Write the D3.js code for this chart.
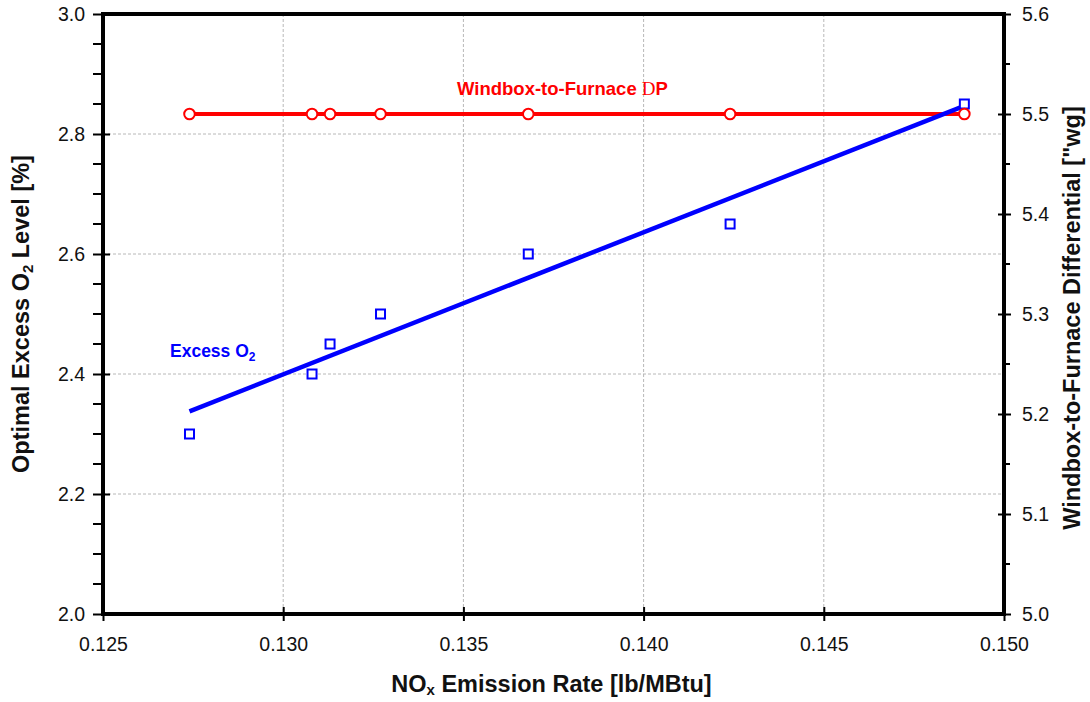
<!DOCTYPE html>
<html><head><meta charset="utf-8">
<script src="https://cdn.jsdelivr.net/npm/d3@7/dist/d3.min.js"></script>
<style>body{margin:0;background:#fff}svg{display:block}text{font-family:"Liberation Sans",Arial,sans-serif}</style>
</head><body><svg id="c" width="1090" height="702"></svg>
<script>
const noxRates = [0.1274, 0.1308, 0.1313, 0.1327, 0.1368, 0.1424, 0.1489];
const excessO2 = [2.30, 2.40, 2.45, 2.50, 2.60, 2.65, 2.85];
const windboxDP = [5.5, 5.5, 5.5, 5.5, 5.5, 5.5, 5.5];
const xTicks = [0.125, 0.130, 0.135, 0.140, 0.145, 0.150];
const yLeftTicks = [2.0, 2.2, 2.4, 2.6, 2.8, 3.0];
const yRightTicks = [5.0, 5.1, 5.2, 5.3, 5.4, 5.5, 5.6];

const svg = d3.select("#c");
const L = 103, R = 1004, T = 14, B = 614;
const x = d3.scaleLinear().domain([0.125, 0.150]).range([L, R]);
const yL = d3.scaleLinear().domain([2.0, 3.0]).range([B, T]);
const yR = d3.scaleLinear().domain([5.0, 5.6]).range([B, T]);

// grid
const g = svg.append("g").attr("stroke", "#b8b8b8").attr("stroke-width", 1).attr("stroke-dasharray", "3,2");
xTicks.slice(1, -1).forEach(v => g.append("line").attr("x1", x(v)).attr("x2", x(v)).attr("y1", T).attr("y2", B));
yLeftTicks.slice(1, -1).forEach(v => g.append("line").attr("x1", L).attr("x2", R).attr("y1", yL(v)).attr("y2", yL(v)));

// axes
const fs = 19.5;
const axL = svg.append("g").attr("transform", `translate(${L},0)`)
  .call(d3.axisLeft(yL).tickValues(yLeftTicks).tickFormat(d3.format(".1f")).tickSize(10).tickPadding(8));
const axR = svg.append("g").attr("transform", `translate(${R},0)`)
  .call(d3.axisRight(yR).tickValues(yRightTicks).tickFormat(d3.format(".1f")).tickSize(7).tickPadding(11));
const axB = svg.append("g").attr("transform", `translate(0,${B})`)
  .call(d3.axisBottom(x).tickValues(xTicks).tickFormat(d3.format(".3f")).tickSize(7).tickPadding(16));
[axL, axR, axB].forEach(a => {
  a.select(".domain").remove();
  a.selectAll("text").attr("font-size", fs).attr("fill", "#111").style("font-family", '"Liberation Sans",Arial,sans-serif');
  a.selectAll(".tick line").attr("stroke", "#000").attr("stroke-width", 2);
});
// crossing major ticks
axL.selectAll(".tick line").attr("x1", -10).attr("x2", 7);
axR.selectAll(".tick line").attr("x1", -6).attr("x2", 7);
axB.selectAll(".tick line").attr("y1", -7).attr("y2", 7);

// minor ticks
const minorL = d3.range(2.05, 3.0, 0.05).filter(v => Math.abs(Math.round(v * 5) - v * 5) > 1e-6);
minorL.forEach(v => svg.append("line").attr("x1", L - 10).attr("x2", L).attr("y1", yL(v)).attr("y2", yL(v)).attr("stroke", "#000").attr("stroke-width", 2));
const minorR = d3.range(5.05, 5.6, 0.1);
minorR.forEach(v => svg.append("line").attr("x1", R).attr("x2", R + 6).attr("y1", yR(v)).attr("y2", yR(v)).attr("stroke", "#000").attr("stroke-width", 2));

// frame
svg.append("rect").attr("x", L).attr("y", T).attr("width", R - L).attr("height", B - T)
  .attr("fill", "none").attr("stroke", "#000").attr("stroke-width", 4);

// regression line for excess O2
const n = noxRates.length;
const mx = d3.mean(noxRates), my = d3.mean(excessO2);
let sxy = 0, sxx = 0;
for (let i = 0; i < n; i++) { sxy += (noxRates[i] - mx) * (excessO2[i] - my); sxx += (noxRates[i] - mx) ** 2; }
const slope = sxy / sxx, icpt = my - slope * mx;
const x0 = d3.min(noxRates), x1 = d3.max(noxRates);

// red line
svg.append("path").datum(noxRates.map((v, i) => [v, windboxDP[i]]))
  .attr("d", d3.line().x(d => x(d[0])).y(d => yR(d[1])))
  .attr("fill", "none").attr("stroke", "#ff0000").attr("stroke-width", 4);

svg.append("line").attr("x1", x(x0)).attr("y1", yL(icpt + slope * x0)).attr("x2", x(x1)).attr("y2", yL(icpt + slope * x1))
  .attr("stroke", "#0000ff").attr("stroke-width", 4.5);

// squares
svg.selectAll("rect.sq").data(noxRates).enter().append("rect").attr("class", "sq")
  .attr("x", d => x(d) - 4.5).attr("y", (d, i) => yL(excessO2[i]) - 4.5).attr("width", 9).attr("height", 9)
  .attr("fill", "#fff").attr("stroke", "#0000ff").attr("stroke-width", 2);
// circles
svg.selectAll("circle.pt").data(noxRates).enter().append("circle").attr("class", "pt")
  .attr("cx", d => x(d)).attr("cy", (d, i) => yR(windboxDP[i])).attr("r", 5.3)
  .attr("fill", "#fff").attr("stroke", "#ff0000").attr("stroke-width", 2);

// annotations
const t1 = svg.append("text").attr("x", 457).attr("y", 95).attr("fill", "#ff0000").attr("font-weight", "bold").attr("font-size", 18.5);
t1.append("tspan").text("Windbox-to-Furnace ");
t1.append("tspan").text("D").attr("font-weight", "normal").style("font-family", '"Liberation Serif",serif').attr("font-size", 19);
t1.append("tspan").text("P");

const t2 = svg.append("text").attr("x", 170).attr("y", 357).attr("fill", "#0000ff").attr("font-weight", "bold").attr("font-size", 17.5);
t2.append("tspan").text("Excess O");
t2.append("tspan").text("2").attr("font-size", 12).attr("dy", 4);

// axis titles
const tx = svg.append("text").attr("x", 551.5).attr("y", 692).attr("text-anchor", "middle").attr("font-weight", "bold").attr("font-size", 23.5).attr("fill", "#111");
tx.append("tspan").text("NO");
tx.append("tspan").text("x").attr("font-size", 15).attr("dy", 3);
tx.append("tspan").text(" Emission Rate [lb/MBtu]").attr("dy", -3);

const tl = svg.append("text").attr("transform", `translate(29,${(T + B) / 2}) rotate(-90)`).attr("text-anchor", "middle").attr("font-weight", "bold").attr("font-size", 23.5).attr("fill", "#111");
tl.append("tspan").text("Optimal Excess O");
tl.append("tspan").text("2").attr("font-size", 15).attr("dy", 4);
tl.append("tspan").text(" Level [%]").attr("dy", -4);

svg.append("text").attr("transform", `translate(1080,${(T + B) / 2 + 4}) rotate(-90)`).attr("text-anchor", "middle").attr("font-weight", "bold").attr("font-size", 23.5).attr("fill", "#111")
  .text('Windbox-to-Furnace Differential ["wg]');
</script></body></html>
